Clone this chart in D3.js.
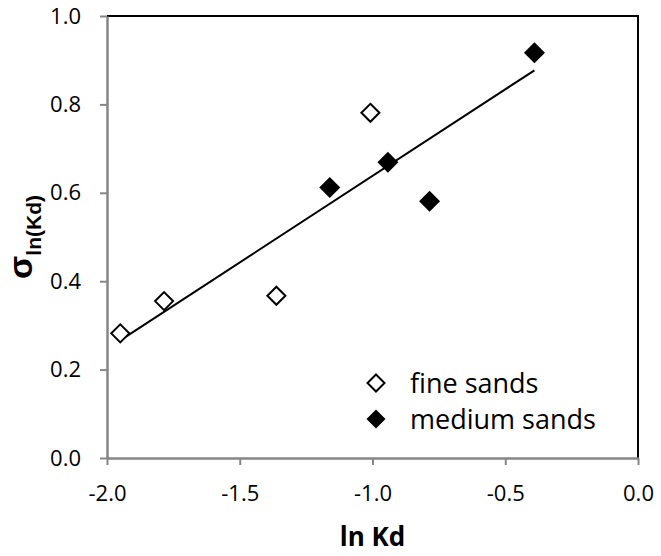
<!DOCTYPE html>
<html>
<head>
<meta charset="utf-8">
<script src="https://cdn.jsdelivr.net/npm/d3@7"></script>
<style>
    body { margin: 0; background: #fff; }
    text { font-family: "Open Sans", sans-serif; fill: #000; }
</style>
</head>
<body>
<script>
//begin script when window loads
(function(){

    //values
    var fineX = [-1.950, -1.785, -1.362, -1.008],
        fineY = [0.282, 0.355, 0.367, 0.781];

    var mediumX = [-1.161, -0.942, -0.785, -0.390],
        mediumY = [0.612, 0.669, 0.581, 0.917];

    var xTicks = [-2.0, -1.5, -1.0, -0.5, 0.0],
        yTicks = [0.0, 0.2, 0.4, 0.6, 0.8, 1.0];

    var legendLabels = ["fine sands", "medium sands"];

    window.onload = setChart();

    function setChart() {

        var width = 661,
            height = 556;

        var margin = {top: 16, right: 23, bottom: 98, left: 107};

        var svg = d3.select("body")
            .append("svg")
            .attr("width", width)
            .attr("height", height);

        var x = d3.scaleLinear()
            .domain([-2, 0])
            .range([margin.left, width - margin.right]);

        var y = d3.scaleLinear()
            .domain([0, 1])
            .range([height - margin.bottom, margin.top]);

        //black frame on top and right
        svg.append("path")
            .attr("d", "M" + x(-2) + "," + y(1) + "H" + x(0) + "V" + y(0))
            .attr("fill", "none")
            .attr("stroke", "#000")
            .attr("stroke-width", 2);

        //gray axes with outside ticks
        var xAxis = svg.append("g")
            .attr("transform", "translate(0," + y(0) + ")")
            .call(d3.axisBottom(x)
                .tickValues(xTicks)
                .tickSizeInner(7)
                .tickSizeOuter(0)
                .tickPadding(20)
                .tickFormat(function(d){ return d.toFixed(1); }));

        var yAxis = svg.append("g")
            .attr("transform", "translate(" + x(-2) + ",0)")
            .call(d3.axisLeft(y)
                .tickValues(yTicks)
                .tickSizeInner(7)
                .tickSizeOuter(0)
                .tickPadding(19)
                .tickFormat(function(d){ return d.toFixed(1); }));

        [xAxis, yAxis].forEach(function(g){
            g.select(".domain").attr("stroke", "#868686").attr("stroke-width", 2.5);
            g.selectAll(".tick line").attr("stroke", "#868686").attr("stroke-width", 2);
            g.selectAll(".tick text")
                .style("font-family", "'Open Sans', sans-serif")
                .style("font-size", "22px")
                .attr("fill", "#000");
        });

        //trend line, least squares over all points
        var allX = fineX.concat(mediumX),
            allY = fineY.concat(mediumY);
        var mx = d3.mean(allX),
            my = d3.mean(allY);
        var sxy = d3.sum(allX, function(d, i){ return (d - mx) * (allY[i] - my); }),
            sxx = d3.sum(allX, function(d){ return (d - mx) * (d - mx); });
        var slope = sxy / sxx,
            intercept = my - slope * mx;
        var ends = d3.extent(allX);

        svg.append("line")
            .attr("x1", x(ends[0]))
            .attr("y1", y(intercept + slope * ends[0]))
            .attr("x2", x(ends[1]))
            .attr("y2", y(intercept + slope * ends[1]))
            .attr("stroke", "#000")
            .attr("stroke-width", 2);

        //points
        drawDiamonds(svg, fineX.map(function(d, i){ return [x(d), y(fineY[i])]; }), false, 9);
        drawDiamonds(svg, mediumX.map(function(d, i){ return [x(d), y(mediumY[i])]; }), true, 10.5);

        //legend
        var legend = svg.append("g");
        drawDiamonds(legend, [[376, 383]], false, 8.5);
        drawDiamonds(legend, [[376, 419]], true, 9.5);
        legend.selectAll(".legendText")
            .data(legendLabels)
            .enter()
            .append("text")
            .attr("class", "legendText")
            .attr("x", 410)
            .attr("y", function(d, i){ return 393 + i * 36; })
            .style("font-size", "27px")
            .text(function(d){ return d; });

        //axis titles
        svg.append("text")
            .attr("x", x(-1))
            .attr("y", 546)
            .attr("text-anchor", "middle")
            .style("font-size", "26px")
            .style("font-weight", "bold")
            .text("ln Kd");

        var yTitle = svg.append("text")
            .attr("transform", "translate(32,237) rotate(-90)")
            .attr("text-anchor", "middle")
            .style("font-family", "'Liberation Sans', sans-serif")
            .style("font-weight", "bold");
        yTitle.append("tspan")
            .style("font-size", "34px")
            .text("σ");
        yTitle.append("tspan")
            .attr("dy", 9)
            .style("font-size", "21px")
            .text("ln(Kd)");
    };

    function drawDiamonds(parent, pts, filled, r){
        parent.selectAll(null)
            .data(pts)
            .enter()
            .append("path")
            .attr("d", function(d){
                return "M" + d[0] + "," + (d[1] - r) + "L" + (d[0] + r) + "," + d[1] +
                    "L" + d[0] + "," + (d[1] + r) + "L" + (d[0] - r) + "," + d[1] + "Z";
            })
            .attr("fill", filled ? "#000" : "#fff")
            .attr("stroke", "#000")
            .attr("stroke-width", filled ? 0 : 2);
    };

})()
</script>
</body>
</html>
